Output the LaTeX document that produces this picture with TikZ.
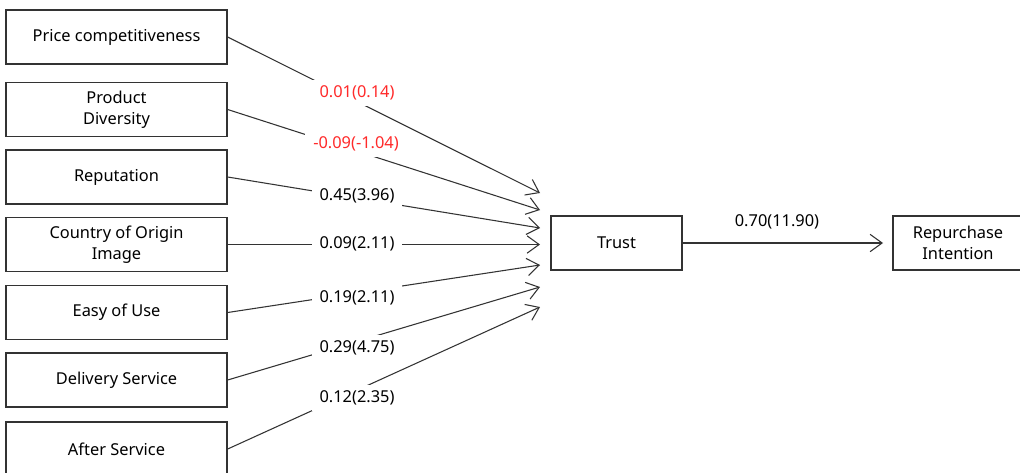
\documentclass[tikz,border=0pt]{standalone}
\usepackage{fontspec}
\setmainfont{Noto Sans}
\usetikzlibrary{arrows.meta}
\definecolor{linec}{HTML}{333333}
\definecolor{redc}{HTML}{FF2A2A}
\tikzset{
  box/.style={draw=linec, line width=1pt, fill=white, minimum width=165.75pt, minimum height=40.5pt, align=center, inner sep=0pt, font=\fontsize{12.3}{15.75}\selectfont},
  conn/.style={draw=linec, line width=0.8pt, -{Straight Barb[length=9pt,width=13pt,line width=0.8pt]}},
  lab/.style={fill=white, inner xsep=6pt, inner ysep=4.5pt, font=\fontsize{12.3}{14}\selectfont},
  redlab/.style={lab, text=redc}
}
\begin{document}
\begin{tikzpicture}[x=0.75pt,y=-0.75pt]
\clip (0,0) rectangle (1020,472);
\fill[white] (0,0) rectangle (1020,472);
\node[box] (pc) at (116.5,37) {Price competitiveness};
\node[box] (pd) at (116.5,109.5) {Product\\Diversity};
\node[box] (rep) at (116.5,177) {Reputation};
\node[box] (coo) at (116.5,244.5) {Country of Origin\\Image};
\node[box] (eou) at (116.5,312.5) {Easy of Use};
\node[box] (ds) at (116.5,380) {Delivery Service};
\node[box] (as) at (116.5,449) {After Service};
\node[box, minimum width=98.25pt] (tr) at (616.5,243) {Trust};
\node[box, minimum width=97.5pt] (ri) at (958,243) {Repurchase\\Intention};
\coordinate (t1) at (540,193);
\coordinate (t2) at (540,210);
\coordinate (t3) at (540,228);
\coordinate (t4) at (540,244.5);
\coordinate (t5) at (540,265);
\coordinate (t6) at (540,287);
\coordinate (t7) at (540,307);
\coordinate (t8) at (883,243);
\draw[conn] (pc.east) -- (t1);
\draw[conn] (pd.east) -- (t2);
\draw[conn] (rep.east) -- (t3);
\draw[conn] (coo.east) -- (t4);
\draw[conn] (eou.east) -- (t5);
\draw[conn] (ds.east) -- (t6);
\draw[conn] (as.east) -- (t7);
\draw[conn] (tr.east) -- (t8);
\node[redlab] (l1) at (357,93) {0.01(0.14)};
\node[redlab] (l2) at (356,144) {-0.09(-1.04)};
\node[lab] (l3) at (357,196) {0.45(3.96)};
\node[lab] (l4) at (357,244) {0.09(2.11)};
\node[lab] (l5) at (357,298) {0.19(2.11)};
\node[lab] (l6) at (357,348) {0.29(4.75)};
\node[lab] (l7) at (357,398) {0.12(2.35)};
\node[font=\fontsize{12.3}{14}\selectfont] (l8) at (777,222) {0.70(11.90)};
\end{tikzpicture}
\end{document}
